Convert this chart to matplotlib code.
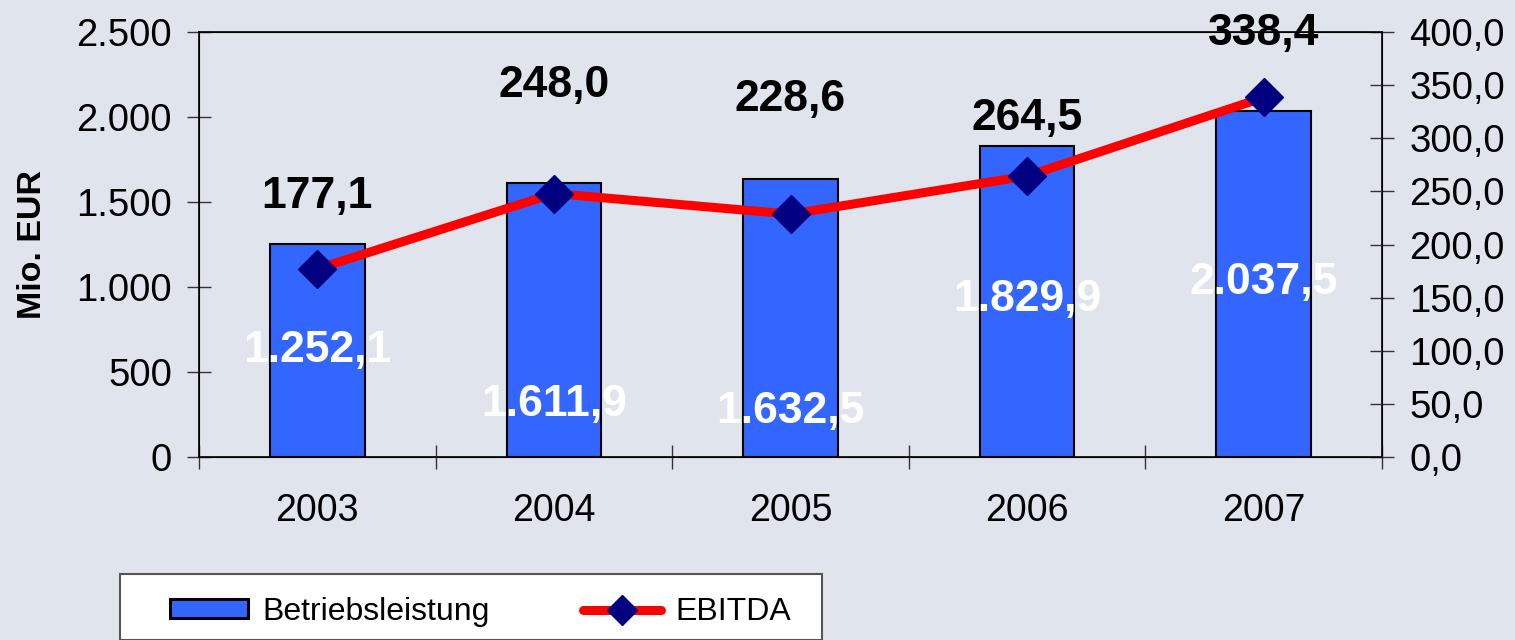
import matplotlib
matplotlib.use("Agg")
import matplotlib.pyplot as plt
from matplotlib.ticker import FuncFormatter, FixedLocator
from matplotlib.patches import Rectangle
from matplotlib.lines import Line2D
import numpy as np

years = ["2003", "2004", "2005", "2006", "2007"]
betriebsleistung = [1252.1, 1611.9, 1632.5, 1829.9, 2037.5]
ebitda = [177.1, 248.0, 228.6, 264.5, 338.4]
bar_label_y = [629, 306, 265, 924, 1024]      # label placement (left axis units)
ebitda_label_y = [245, 350, 336, 319, 399]    # label placement (right axis units)

BG = "#E0E5ED"
FONT = "Liberation Sans"
plt.rcParams["font.family"] = [FONT, "DejaVu Sans"]

fig = plt.figure(figsize=(15.15, 6.4), dpi=100, facecolor=BG)
ax = fig.add_axes([199/1515, 1-457/640, (1382-199)/1515, (457-32)/640])
ax.set_facecolor(BG)
x = np.arange(len(years))

ax.bar(x, betriebsleistung, width=0.40, color="#3366FF", edgecolor="black", linewidth=1.5, zorder=2)
ax.set_xlim(-0.5, len(years) - 0.5)
ax.set_ylim(0, 2500)
ax.set_yticks(np.arange(0, 2501, 500))
ax.yaxis.set_major_formatter(FuncFormatter(lambda v, p: f"{int(v):,}".replace(",", ".")))
ax.xaxis.set_major_locator(FixedLocator(np.arange(-0.5, len(years), 1.0)))
ax.xaxis.set_major_formatter(FuncFormatter(lambda v, p: ""))
ax.xaxis.set_minor_locator(FixedLocator(x))
ax.set_xticklabels(years, minor=True)
ax.tick_params(axis="x", which="minor", length=0, pad=26, labelsize=27)
ax.tick_params(axis="x", which="major", direction="inout", length=17, width=1, color="#333333")
ax.tick_params(axis="y", direction="inout", length=17, width=1, color="#333333", labelsize=27.5, pad=11)
for s in ["left", "right", "top", "bottom"]:
    ax.spines[s].set_linewidth(1.2)
    ax.spines[s].set_color("black")
ax.set_ylabel("Mio. EUR", fontsize=24.5, fontweight="bold", labelpad=20)

ax2 = ax.twinx()
ax2.set_ylim(0, 400)
ax2.set_yticks(np.arange(0, 401, 50))
ax2.yaxis.set_major_formatter(FuncFormatter(lambda v, p: f"{v:.1f}".replace(".", ",")))
ax2.tick_params(axis="y", direction="inout", length=17, width=1, color="#333333", labelsize=27.5, pad=11)
ax2.plot(x, ebitda, color="#FF0000", linewidth=6.5, marker="D", markersize=19,
         markerfacecolor="#000080", markeredgecolor="#000080", zorder=3)

for xi, v, ly in zip(x, betriebsleistung, bar_label_y):
    txt = f"{v:,.1f}".replace(",", "X").replace(".", ",").replace("X", ".")
    ax2.text(xi, ly * 400 / 2500, txt, color="white", fontsize=32, fontweight="bold",
             ha="center", va="center", zorder=5)
for xi, v, ly in zip(x, ebitda, ebitda_label_y):
    ax2.text(xi, ly, f"{v:.1f}".replace(".", ","), color="black", fontsize=32, fontweight="bold",
             ha="center", va="center", zorder=5, clip_on=False)

# legend box
fig.patches.append(Rectangle((120/1515, 0), (822-120)/1515, (640-587)/640 + 0.02,
                             transform=fig.transFigure, facecolor="white", edgecolor="#555555",
                             linewidth=1.5, zorder=0))
handles = [Rectangle((0, 0), 1, 1, facecolor="#3366FF", edgecolor="black", linewidth=2.2),
           Line2D([], [], color="#FF0000", linewidth=6.5, marker="D", markersize=15,
                  markerfacecolor="#000080", markeredgecolor="#000080", solid_capstyle="round")]
fig.legend(handles, ["Betriebsleistung", "EBITDA"], loc="center left",
           bbox_to_anchor=(170/1515, 1-612/640), ncol=2, frameon=False, fontsize=23,
           handlelength=2.45, handleheight=0.55, handletextpad=0.45, columnspacing=2.9,
           borderpad=0, borderaxespad=0)

fig.savefig("out.png", dpi=100, facecolor=BG)
